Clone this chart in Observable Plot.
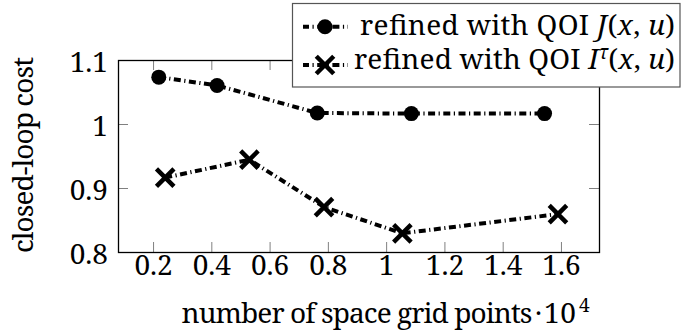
<!DOCTYPE html>
<html><head><meta charset="utf-8">
<script src="https://cdn.jsdelivr.net/npm/d3@7"></script>
<script src="https://cdn.jsdelivr.net/npm/@observablehq/plot@0.6"></script>
<style>body{margin:0;background:#fff}</style>
</head><body><div id="chart"></div>
<script>
// ---- data ----
const gridPointsJ = [0.218, 0.418, 0.762, 1.085, 1.542];
const costJ       = [1.074, 1.061, 1.018, 1.017, 1.017];
const gridPointsI = [0.240, 0.529, 0.785, 1.054, 1.588];
const costI       = [0.917, 0.945, 0.871, 0.830, 0.860];
const xTicks = [0.2, 0.4, 0.6, 0.8, 1, 1.2, 1.4, 1.6];
const xTickLabels = ["0.2", "0.4", "0.6", "0.8", "1", "1.2", "1.4", "1.6"];
const yTicks = [0.8, 0.9, 1, 1.1];
const yTickLabels = ["0.8", "0.9", "1", "1.1"];
const xTitle = "number of space grid points";
const xExponent = ["·", "10", "4"];
const yTitle = "closed-loop cost";

const seriesJ = gridPointsJ.map((x, i) => ({x, y: costJ[i]}));
const seriesI = gridPointsI.map((x, i) => ({x, y: costI[i]}));

const FONT = "Noto Serif";
const FS = 28;
const DASH = "7,3.5,1.2,3.5";
const W = 684, H = 334;
const mL = 118, mR = 85, mT = 60, mB = 82;
const frameH = H - mT - mB, frameW = W - mL - mR;
const tickLen = 10;

const chart = Plot.plot({
  width: W, height: H,
  marginLeft: mL, marginRight: mR, marginTop: mT, marginBottom: mB,
  style: {fontFamily: FONT, fontSize: FS + "px", color: "black", background: "white", overflow: "visible"},
  x: {domain: [0.0797, 1.7306], axis: null},
  y: {domain: [0.8, 1.1], axis: null},
  marks: [
    // inward ticks on all four sides
    Plot.tickX(xTicks, {x: d => d, stroke: "#808080", strokeWidth: 1, insetTop: frameH - tickLen}),
    Plot.tickX(xTicks, {x: d => d, stroke: "#808080", strokeWidth: 1, insetBottom: frameH - tickLen}),
    Plot.tickY(yTicks, {y: d => d, stroke: "#808080", strokeWidth: 1, insetRight: frameW - tickLen}),
    Plot.tickY(yTicks, {y: d => d, stroke: "#808080", strokeWidth: 1, insetLeft: frameW - tickLen}),
    Plot.frame({stroke: "black", strokeWidth: 1.3}),
    // tick labels
    Plot.text(xTicks, {x: d => d, text: (d, i) => xTickLabels[i], frameAnchor: "bottom", dy: 22, fill: "black", fontFamily: FONT, fontSize: FS}),
    Plot.text(yTicks, {y: d => d, text: (d, i) => yTickLabels[i], frameAnchor: "left", dx: -10.5, dy: 2.5, textAnchor: "end", fill: "black", fontFamily: FONT, fontSize: FS}),
    // series
    Plot.line(seriesJ, {x: "x", y: "y", stroke: "black", strokeWidth: 4, strokeDasharray: DASH, strokeLinecap: "butt", strokeLinejoin: "miter"}),
    Plot.line(seriesI, {x: "x", y: "y", stroke: "black", strokeWidth: 4, strokeDasharray: DASH, strokeLinecap: "butt", strokeLinejoin: "miter"}),
    Plot.dot(seriesJ, {x: "x", y: "y", r: 7.5, fill: "black", stroke: "none"}),
    Plot.dot(seriesI, {x: "x", y: "y", r: 8, symbol: "times", stroke: "black", strokeWidth: 4.5, fill: "none"})
  ]
});
document.getElementById("chart").appendChild(chart);

// ---- titles and legend drawn into the same svg ----
const svg = d3.select(chart);
const txt = (sel) => sel.attr("fill", "black").attr("font-family", FONT).attr("font-size", FS).attr("text-anchor", "start");
txt(svg.append("text")).attr("x", 181.5).attr("y", 323).attr("textLength", 351).attr("lengthAdjust", "spacing").text(xTitle);
txt(svg.append("text")).attr("x", 535).attr("y", 323).text(xExponent[0]);
txt(svg.append("text")).attr("x", 544).attr("y", 323).attr("textLength", 32).attr("lengthAdjust", "spacing").text(xExponent[1]);
txt(svg.append("text")).attr("x", 579).attr("y", 312).attr("font-size", 19).text(xExponent[2]);
txt(svg.append("text")).attr("transform", "translate(33,155) rotate(-90)").attr("text-anchor", "middle")
  .attr("textLength", 196).attr("lengthAdjust", "spacing").text(yTitle);

const lg = svg.append("g");
lg.append("rect").attr("x", 292.5).attr("y", 3.5).attr("width", 387.5).attr("height", 83.5)
  .attr("fill", "white").attr("stroke", "#555").attr("stroke-width", 1.2);
const rows = [
  {cy: 26.7, base: 35, tx: 360, len: 315, kind: "circle", parts: [["refined with QOI ", false], ["J", true], ["(", false], ["x", true], [", ", false], ["u", true], [")", false]]},
  {cy: 65, base: 68.5, tx: 354, len: 321, kind: "times", parts: [["refined with QOI ", false], ["I", true], ["τ", true, true], ["(", false], ["x", true], [", ", false], ["u", true], [")", false]]}
];
for (const r of rows) {
  lg.append("line").attr("x1", 303).attr("x2", 348).attr("y1", r.cy).attr("y2", r.cy)
    .attr("stroke", "black").attr("stroke-width", 4).attr("stroke-dasharray", DASH).attr("stroke-dashoffset", 1);
  if (r.kind === "circle") {
    lg.append("circle").attr("cx", 325).attr("cy", r.cy).attr("r", 7.5).attr("fill", "black");
  } else {
    lg.append("path").attr("transform", `translate(325,${r.cy})`).attr("d", d3.symbol(d3.symbolTimes, Math.PI * 64)())
      .attr("stroke", "black").attr("stroke-width", 4.5).attr("fill", "none");
  }
  const t = txt(lg.append("text")).attr("x", r.tx).attr("y", r.base)
    .attr("textLength", r.len).attr("lengthAdjust", "spacing");
  for (const [s, it, sup] of r.parts) {
    const ts = t.append("tspan").text(s);
    if (it) ts.attr("font-style", "italic");
    if (sup) ts.attr("font-size", 19).attr("dy", -10);
    else if (s === "(" && r.kind === "times") ts.attr("dy", 10);
  }
}
</script>
</body></html>
